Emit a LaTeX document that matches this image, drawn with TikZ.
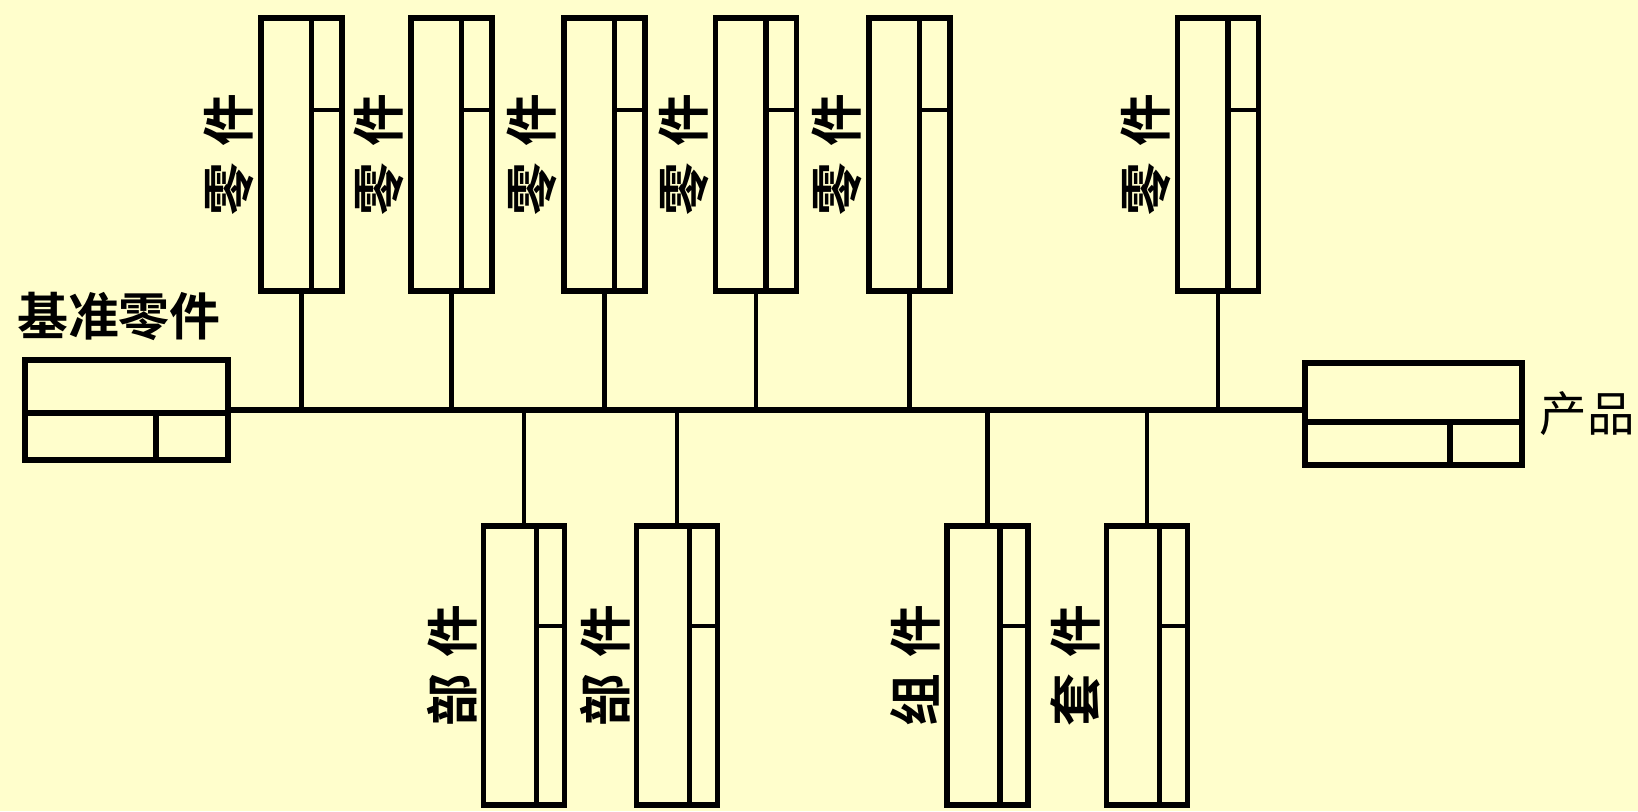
\documentclass[tikz,border=0pt]{standalone}
\usepackage{fontspec}
\newfontfamily\cjk{Noto Sans CJK SC}
\newfontfamily\cjkbold{Noto Sans CJK SC Bold}
\usetikzlibrary{positioning}
\definecolor{paper}{RGB}{255,254,204}
\tikzset{
  vbox/.style={draw, line width=1.6pt, inner sep=0pt, outer sep=0pt, minimum width=0.81cm},
  hbox/.style={draw, line width=1.6pt, inner sep=0pt, outer sep=0pt},
  vlabel/.style={font=\cjkbold\fontsize{15}{15}\selectfont, rotate=90, inner sep=0pt},
  link/.style={line width=1.3pt},
}
\begin{document}
\begin{tikzpicture}[x=0.01cm, y=-0.01cm]
\fill[paper] (0,0) rectangle (1638,811);
\useasboundingbox (0,0) rectangle (1638,811);

% base part and product
\node[hbox, minimum width=2.03cm, minimum height=1cm] (base) at (126.5,410) {};
\node[hbox, minimum width=2.17cm, minimum height=1.02cm] (prod) at (1413.5,414) {};
\draw[line width=1.6pt] (base.west) ++(0,3) -- ++(203,0);
\draw[line width=1.6pt] (base.center) ++(29.5,3) -- ++(0,47);
\draw[line width=1.6pt] (prod.west) ++(0,8) -- ++(217,0);
\draw[line width=1.6pt] (prod.center) ++(36.5,8) -- ++(0,43);
\node[font=\cjkbold\fontsize{14.5}{15}\selectfont, inner sep=0pt] (basel) at (119,316) {基准零件};
\node[font=\cjk\fontsize{13.5}{14}\selectfont, inner sep=0pt, right=0.17cm of prod] (prodl) {产品};

% parts above
\node[vbox, minimum height=2.73cm] (t1) at (301.5,154.5) {};
\node[vbox, minimum height=2.73cm] (t2) at (451.5,154.5) {};
\node[vbox, minimum height=2.73cm] (t3) at (604.5,154.5) {};
\node[vbox, minimum height=2.73cm] (t4) at (756,154.5) {};
\node[vbox, minimum height=2.73cm] (t5) at (909.5,154.5) {};
\node[vbox, minimum height=2.73cm] (t6) at (1218,154.5) {};
\foreach \b in {t1,t2,t3,t4,t5,t6} {
  \draw[line width=1.6pt] (\b.north) ++(10,0) -- ++(0,273);
  \draw[link] (\b.north) ++(10,92) -- ++(30.5,0);
  \node[vlabel, left=0.06cm of \b, anchor=south] (\b l) {零\hspace{0.3em}件};
}

% units below
\node[vbox, minimum height=2.79cm] (b1) at (524,665.5) {};
\node[vbox, minimum height=2.79cm] (b2) at (677,665.5) {};
\node[vbox, minimum height=2.79cm] (b3) at (987.5,665.5) {};
\node[vbox, minimum height=2.79cm] (b4) at (1147,665.5) {};
\foreach \b in {b1,b2,b3,b4} {
  \draw[line width=1.6pt] (\b.north) ++(12.5,0) -- ++(0,279);
  \draw[link] (\b.north) ++(12.5,100) -- ++(28,0);
}
\node[vlabel, left=0.06cm of b1, anchor=south] (b1l) {部\hspace{0.3em}件};
\node[vlabel, left=0.06cm of b2, anchor=south] (b2l) {部\hspace{0.3em}件};
\node[vlabel, left=0.06cm of b3, anchor=south] (b3l) {组\hspace{0.3em}件};
\node[vlabel, left=0.06cm of b4, anchor=south] (b4l) {套\hspace{0.3em}件};

% assembly line
\draw[line width=1.5pt] (base.east) -- (base.east -| prod.west);
\foreach \b in {t1,t2,t3,t4,t5,t6}
  \draw[link] (\b.south) -- (\b.south |- base.east);
\foreach \b in {b1,b2,b3,b4}
  \draw[link] (\b.north) -- (\b.north |- base.east);
\end{tikzpicture}
\end{document}
